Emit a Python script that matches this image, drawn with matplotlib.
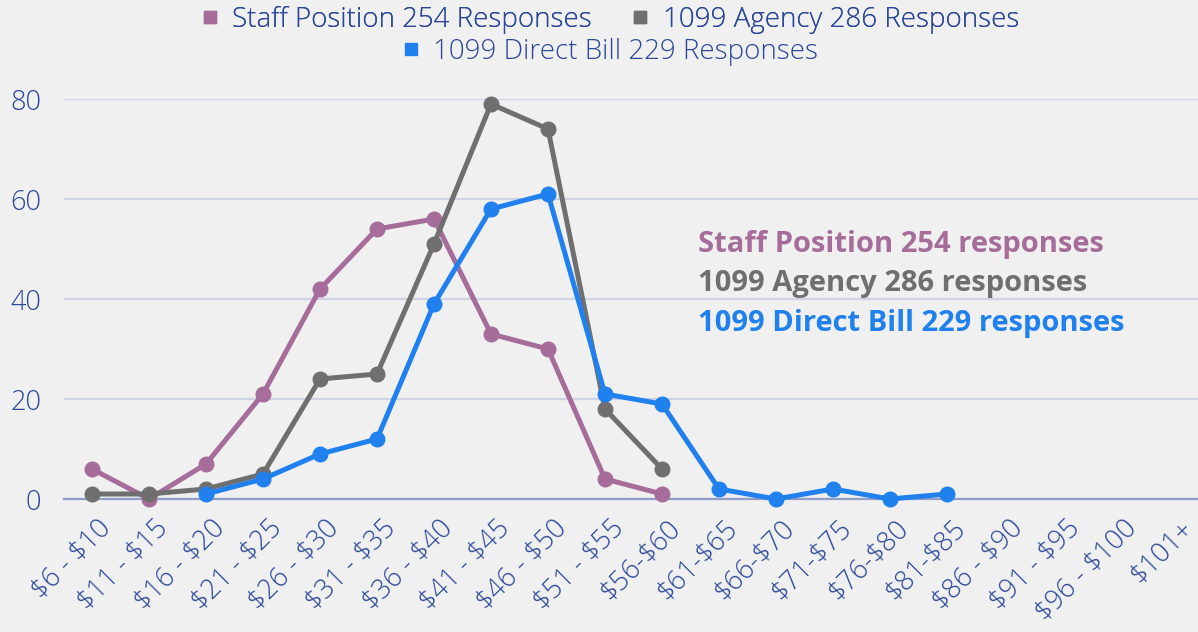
import numpy as np
import matplotlib
matplotlib.use("Agg")
import matplotlib.pyplot as plt
import matplotlib.transforms as mtransforms
from matplotlib.lines import Line2D

plt.rcParams['font.family'] = ['Open Sans', 'DejaVu Sans']
plt.rcParams['text.parse_math'] = False

## Data
categories = ["$6 - $10", "$11 - $15", "$16 - $20", "$21 - $25", "$26 - $30",
              "$31 - $35", "$36 - $40", "$41 - $45", "$46 - $50", "$51 - $55",
              "$56-$60", "$61-$65", "$66-$70", "$71-$75", "$76-$80", "$81-$85",
              "$86 - $90", "$91 - $95", "$96 - $100", "$101+"]
nan = np.nan
staff = [6, 0, 7, 21, 42, 54, 56, 33, 30, 4, 1,
         nan, nan, nan, nan, nan, nan, nan, nan, nan]
agency = [1, 1, 2, 5, 24, 25, 51, 79, 74, 18, 6,
          nan, nan, nan, nan, nan, nan, nan, nan, nan]
direct = [nan, nan, 1, 4, 9, 12, 39, 58, 61, 21, 19,
          2, 0, 2, 0, 1, nan, nan, nan, nan]
yticks = [0, 20, 40, 60, 80]

series_names = ["Staff Position 254 Responses", "1099 Agency 286 Responses",
                "1099 Direct Bill 229 Responses"]
notes = ["Staff Position 254 responses", "1099 Agency 286 responses",
         "1099 Direct Bill 229 responses"]
colors = ["#a66d9a", "#6f6f6f", "#1f80ee"]

bg = "#f0f0f0"
text_col = "#2c4898"

fig = plt.figure(figsize=(11.98, 6.32), dpi=100, facecolor=bg)
W, H = 1198.0, 632.0
step = 57.0
ax = fig.add_axes([63.5 / W, 133 / H, 20 * step / W, 400 / H])
ax.set_facecolor(bg)

x = np.arange(len(categories))
for i, (vals, c) in enumerate(zip([staff, agency, direct], colors)):
    ax.plot(x, vals, color=c, lw=3.6, marker='o', ms=10.5,
            clip_on=False, zorder=3 + i, solid_capstyle='round')

ax.set_xlim(-0.5, len(categories) - 0.5)
ax.set_ylim(0, 80)
ax.set_yticks(yticks)
ax.set_xticks(x)
ax.set_xticklabels(categories, rotation=45, ha='right', va='top',
                   rotation_mode='anchor')
ax.tick_params(axis='y', length=0, labelsize=19.5, labelcolor=text_col, pad=16)
ax.tick_params(axis='x', length=0, labelsize=19.5, labelcolor=text_col, pad=11)
# nudge the slanted labels a little to the right
shift = mtransforms.ScaledTranslation(5 / 100, 0, fig.dpi_scale_trans)
for lab in ax.get_xticklabels():
    lab.set_transform(lab.get_transform() + shift)
for lab in ax.get_xticklabels() + ax.get_yticklabels():
    lab.set_fontweight('light')

ax.grid(axis='y', color='#ced4e6', lw=1.6, zorder=0)
ax.set_axisbelow(True)
for s in ['top', 'right', 'left']:
    ax.spines[s].set_visible(False)
ax.spines['bottom'].set_color('#8e9ec8')
ax.spines['bottom'].set_linewidth(1.6)

## Legend: two rows, centred
proxies = [Line2D([], [], ls='none', marker='s', ms=9, color=c) for c in colors]
leg_kw = dict(loc='center', frameon=False, labelcolor=text_col,
              prop={'size': 20, 'weight': 'light'}, handlelength=0.5,
              handletextpad=0.55, borderpad=0)
leg1 = fig.legend(proxies[:2], series_names[:2],
                  bbox_to_anchor=(0.51, 1 - 20 / H), ncol=2,
                  columnspacing=1.5, **leg_kw)
fig.add_artist(leg1)
fig.legend(proxies[2:], series_names[2:],
           bbox_to_anchor=(0.51, 1 - 52 / H), **leg_kw)

## Annotation
for i, (t, c) in enumerate(zip(notes, colors)):
    fig.text(698 / W, 1 - (244 + 40 * i) / H, t, color=c, fontsize=21,
             fontweight='bold', ha='left', va='center')

fig.savefig("out.png", dpi=100, facecolor=bg)
